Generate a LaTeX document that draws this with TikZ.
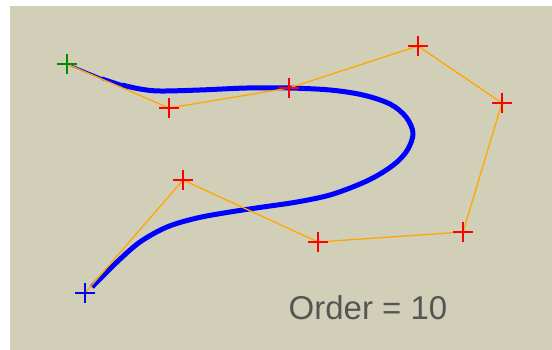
\documentclass[tikz,border=0pt]{standalone}
\usepackage{fontspec}
\setmainfont{Liberation Sans}
\definecolor{bgc}{RGB}{210,207,185}
\definecolor{polyc}{RGB}{255,166,0}
\definecolor{curvec}{RGB}{0,0,255}
\definecolor{ptred}{RGB}{255,0,0}
\definecolor{ptgreen}{RGB}{0,140,0}
\definecolor{txtc}{RGB}{85,85,85}
\begin{document}
\begin{tikzpicture}[x=1pt,y=-1pt,
  polyline/.style={draw=polyc,line width=1.3pt},
  curveline/.style={draw=curvec,line width=5pt,line cap=round,line join=round},
  crossmark/.style={line width=1.6pt}]
\useasboundingbox (0,0) rectangle (552,350);
\fill[bgc] (10,6) rectangle (552,350);
% control points
\coordinate (c0) at (67,64);
\coordinate (c1) at (169,108);
\coordinate (c2) at (289,88);
\coordinate (c3) at (418,46);
\coordinate (c4) at (502,103);
\coordinate (c5) at (463,232);
\coordinate (c6) at (318,242);
\coordinate (c7) at (183,180);
\coordinate (c8) at (85,293);
% curve
\draw[draw=curvec,line width=2pt] (70,65) -- (104,79);
\draw[draw=curvec,line width=3.5pt] (102,78.2) -- (124,85.6);
\draw[curveline,line cap=butt] plot[smooth,tension=0.55] coordinates {(122,85) (140,89) (160,91) (200,90) (247,88) (289,88) (330,90) (363,95) (390,104) (406,117) (413,133) (408,149) (397,162) (380,174) (360,184) (330,195) (297,202) (263,207) (230,212) (197,218) (167,227) (140,242) (117,262) (92,287)};
% control polygon
\draw[polyline] (c0) -- (c1) -- (c2) -- (c3) -- (c4) -- (c5) -- (c6) -- (c7) -- (c8);
% crosses
\foreach \p/\c in {c1/ptred,c2/ptred,c3/ptred,c4/ptred,c5/ptred,c6/ptred,c7/ptred,c0/ptgreen,c8/curvec}{
  \draw[crossmark,draw=\c] (\p) +(-10,0) -- +(10,0) (\p) +(0,-10) -- +(0,10);
}
\node[text=txtc,font=\fontsize{33}{36}\selectfont,anchor=base,inner sep=0pt] (ord) at (368,319) {Order = 10};
\end{tikzpicture}
\end{document}
